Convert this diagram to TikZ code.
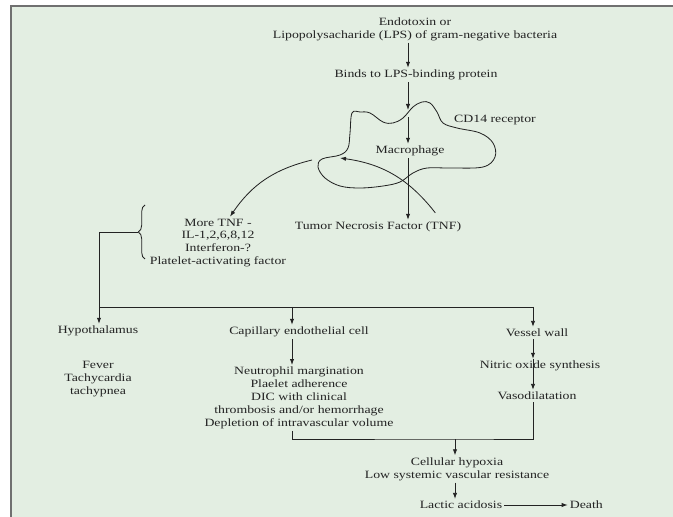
\documentclass[tikz,border=0pt]{standalone}
\usepackage{xcolor}
\usepackage{fontspec}
\setmainfont{Liberation Serif}[FakeStretch=1.24]
\usepackage{tikz}
\usetikzlibrary{positioning}
\usetikzlibrary{arrows.meta,decorations.pathreplacing}

\definecolor{panelgreen}{RGB}{227,238,226}
\definecolor{framegray}{RGB}{112,112,112}
\definecolor{inkgray}{RGB}{35,35,35}

\tikzset{
	lbl/.style={font=\fontsize{9.5}{11}\selectfont, inner sep=1.5pt, align=center, text=inkgray},
	cell/.style={draw=inkgray, line width=0.7pt},
	curly/.style={draw=inkgray, decorate, decoration={brace, amplitude=2mm}}
}

\begin{document}
\begin{tikzpicture}[x=0.03cm, y=-0.03cm, >={Latex[length=1.8mm,width=1.3mm]}, line width=0.7pt, draw=inkgray]
		\useasboundingbox (0,0) rectangle (673,517);
		\fill[panelgreen] (11,6) rectangle (673,517);
		\draw[framegray, line width=1.2pt] (11,517) -- (11,6) -- (673,6);

		\node[lbl] (lps) at (415,29) {Endotoxin or\\Lipopolysacharide (LPS) of gram-negative bacteria};
		\node[lbl] (binds) at (416,75) {Binds to LPS-binding protein};
		\node[lbl] (cd) at (495,120) {CD14 receptor};
		\node[lbl] (mac) at (410,151) {Macrophage};
		\node[lbl] (tnf) at (378,227) {Tumor Necrosis Factor (TNF)};
		\node[lbl] (more) at (218,243) {More TNF -\\IL-1,2,6,8,12\\Interferon-?\\Platelet-activating factor};

		\node[lbl] (hypo) at (98,331) {Hypothalamus};
		\node[lbl] (fever) at (98,379) {Fever\\Tachycardia\\tachypnea};
		\node[lbl] (cap) at (299,332) {Capillary endothelial cell};
		\node[lbl] (clin) at (299,398) {Neutrophil margination\\Plaelet adherence\\DIC with clinical\\thrombosis and/or hemorrhage\\Depletion of intravascular volume};
		\node[lbl] (vessel) at (537,333) {Vessel wall};
		\node[lbl] (nitric) at (540,366) {Nitric oxide synthesis};
		\node[lbl] (vaso) at (537,396) {Vasodilatation};
		\node[lbl] (hypox) at (457,469) {Cellular hypoxia\\Low systemic vascular resistance};
		\node[lbl] (lactic) at (461,505) {Lactic acidosis};
		\node[lbl] (death) [right = 1.9cm of lactic] {Death};

		\draw[cell] plot[smooth cycle, tension=0.6] coordinates {
			(352,113) (350,133) (348,148) (340,155) (322,159) (318,167) (325,178)
			(340,186) (360,188) (383,186) (400,182) (413,173) (427,168) (450,168)
			(483,167) (495,157) (493,143) (480,133) (457,128) (443,123) (437,112)
			(430,103) (422,102) (413,107) (403,118) (393,123) (383,122) (370,113) (360,112)};

		\coordinate (dock) at (408,110);
		\coordinate (inside) at (408,117);
		\coordinate (mout) at (312,160);
		\coordinate (min) at (340,158);
		\coordinate (btip) at (138,232);
		\coordinate (split) at (99,307);
		\coordinate (busM) at (292,307);
		\coordinate (busR) at (533,307);
		\coordinate (join) at (455,439);

		\draw[->] (lps.south -| inside) -- (binds.north -| inside);
		\draw[->] (binds.south -| inside) -- (dock);
		\draw[->] (inside) -- (mac.north -| inside);
		\draw[->] (mac.south -| inside) -- (tnf.north -| inside);

		\draw[->] (mout) to [bend right=21] ([xshift=0.36cm]more.north);
		\draw[->] ([shift={(-28,-7)}]tnf.north east) to [bend right=22] (min);

		\draw[curly] (145,259) -- (145,205);
		\draw (btip) -| (split);
		\draw (split) -- (busR);
		\draw[->] (split) -- (hypo.north -| split);
		\draw[->] (busM) -- (cap.north -| busM);
		\draw[->] (busR) -- (vessel.north -| busR);

		\draw[->] (cap.south -| busM) -- (clin.north -| busM);
		\draw[->] (vessel.south -| busR) -- (nitric.north -| busR);
		\draw[->] (nitric.north -| busR) -- (vaso.north -| busR);

		\draw (clin.south -| busM) |- (join) -| (vaso.south -| busR);
		\draw[->] (join) -- (hypox.north -| join);
		\draw[->] (hypox.south -| join) -- (lactic.north -| join);
		\draw[->] (lactic) -- (death);
	\end{tikzpicture}
\end{document}
